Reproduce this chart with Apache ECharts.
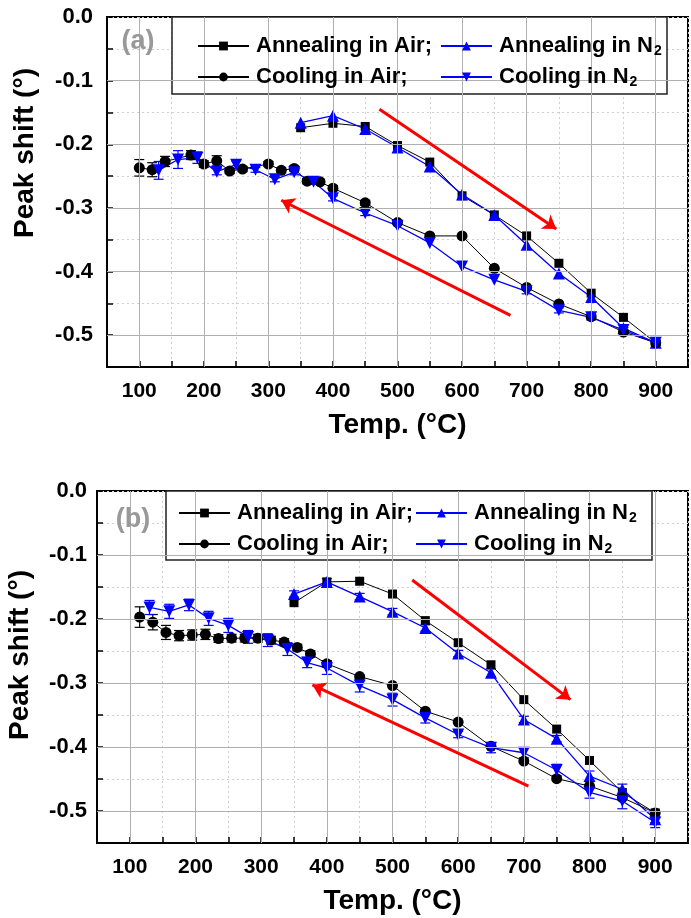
<!DOCTYPE html>
<html><head><meta charset="utf-8">
<script src="https://cdn.jsdelivr.net/npm/echarts@6/dist/echarts.min.js"></script>
<style>html,body{margin:0;padding:0;background:#fff}#c{width:691px;height:918px}</style>
</head><body><div id="c"></div>
<script>
const FF = '"Liberation Sans", Arial, Helvetica, sans-serif';

// ---------- Panel (a) data ----------
const tAnnealA = [350,400,450,500,550,600,650,700,750,800,850,900];
const annealAirA = [-0.174,-0.167,-0.172,-0.202,-0.228,-0.281,-0.311,-0.344,-0.387,-0.434,-0.472,-0.512];
const annealN2A  = [-0.166,-0.155,-0.176,-0.205,-0.235,-0.279,-0.311,-0.358,-0.403,-0.440,-0.489,-0.512];
const tCoolAirA = [100,120,140,180,200,220,240,260,300,320,340,360,380,400,450,500,550,600,650,700,750,800,850,900];
const coolAirA  = [-0.237,-0.240,-0.227,-0.217,-0.231,-0.226,-0.242,-0.239,-0.231,-0.241,-0.238,-0.258,-0.259,-0.269,-0.292,-0.323,-0.344,-0.344,-0.395,-0.425,-0.451,-0.471,-0.495,-0.512];
const coolAirErrA = [0.013,0.011,0.008,0.007,0.005,0.008,0.004,0.004,0.004,0.004,0.004,0.004,0.004,0.004,0.004,0,0,0,0,0,0,0,0,0];
const tCoolN2A = [130,160,190,220,250,280,310,340,370,400,450,500,550,600,650,700,750,800,850,900];
const coolN2A  = [-0.241,-0.224,-0.221,-0.243,-0.232,-0.240,-0.255,-0.244,-0.259,-0.285,-0.308,-0.328,-0.355,-0.392,-0.413,-0.431,-0.461,-0.472,-0.492,-0.512];
const coolN2ErrA = [0.014,0.014,0.009,0.005,0.006,0.004,0.004,0.004,0.004,0.004,0.004,0,0,0,0,0.004,0.004,0.004,0.004,0.004];

// ---------- Panel (b) data ----------
const tAnnealB = [350,400,450,500,550,600,650,700,750,800,850,900];
const annealAirB = [-0.1745,-0.142,-0.141,-0.161,-0.2025,-0.237,-0.2715,-0.326,-0.372,-0.421,-0.471,-0.503];
const annealN2B  = [-0.161,-0.142,-0.165,-0.1885,-0.214,-0.254,-0.284,-0.357,-0.387,-0.4455,-0.466,-0.513];
const annealN2ErrB = [0.005,0.005,0.005,0.005,0.005,0.005,0.006,0.005,0.005,0.008,0.008,0.005];
const tCoolAirB = [115,135,155,175,195,215,235,255,275,295,315,335,355,375,400,450,500,550,600,650,700,750,800,850,900];
const coolAirB  = [-0.197,-0.205,-0.221,-0.226,-0.225,-0.224,-0.2305,-0.230,-0.230,-0.230,-0.233,-0.236,-0.2445,-0.2545,-0.270,-0.290,-0.304,-0.344,-0.361,-0.399,-0.422,-0.4495,-0.461,-0.479,-0.503];
const coolAirErrB = [0.016,0.012,0.011,0.008,0.008,0.008,0.006,0.006,0.006,0.006,0.006,0.005,0.005,0.005,0.005,0,0,0,0,0,0,0,0,0,0];
const tCoolN2B = [130,160,190,220,250,280,310,340,370,400,450,500,550,600,650,700,750,800,850,900];
const coolN2B  = [-0.182,-0.188,-0.178,-0.199,-0.210,-0.228,-0.233,-0.247,-0.268,-0.2766,-0.304,-0.326,-0.3545,-0.3805,-0.401,-0.409,-0.436,-0.471,-0.4845,-0.518];
const coolN2ErrB = [0.011,0.011,0.009,0.011,0.011,0.010,0.010,0.010,0.008,0.010,0.010,0.010,0.008,0.005,0.008,0.008,0.009,0.009,0.012,0.008];

// ---------- annotations (red arrows, data coords) ----------
const arrowsA = [[[472,-0.145],[746,-0.333]], [[675,-0.469],[320,-0.288]]];
const arrowsB = [[[530,-0.139],[771,-0.326]], [[707,-0.461],[378,-0.303]]];

// ---------- ticks ----------
const xMajor = [100,200,300,400,500,600,700,800,900];
const yMajor = [-0.1,-0.2,-0.3,-0.4,-0.5];

const NAMES = ['Annealing in Air;', 'Annealing in N2', 'Cooling in Air;', 'Cooling in N2'];
const BLACK = '#000000', BLUE = '#0000ff';

function lineS(name, xs, ys, symbol, color, size, g, rot) {
  return {
    name, type: 'line', xAxisIndex: g, yAxisIndex: g, z: 3,
    data: xs.map((x, i) => [x, ys[i]]),
    symbol, symbolSize: size, symbolRotate: rot || 0, showSymbol: true,
    lineStyle: { color, width: color === BLUE ? 1.3 : 1 },
    itemStyle: { color, borderWidth: 0 },
    emphasis: { disabled: true }
  };
}
function errS(xs, ys, errs, color, g) {
  const data = [];
  xs.forEach((x, i) => { if (errs[i] > 0) data.push([x, ys[i] - errs[i], ys[i] + errs[i]]); });
  return {
    type: 'custom', xAxisIndex: g, yAxisIndex: g, z: 2, silent: true,
    data, encode: { x: 0, y: [1, 2] },
    renderItem: (p, api) => {
      const lo = api.coord([api.value(0), api.value(1)]);
      const hi = api.coord([api.value(0), api.value(2)]);
      const w = 5, st = { stroke: color, lineWidth: 1.2 };
      return { type: 'group', children: [
        { type: 'line', shape: { x1: lo[0], y1: lo[1], x2: hi[0], y2: hi[1] }, style: st },
        { type: 'line', shape: { x1: lo[0] - w, y1: lo[1], x2: lo[0] + w, y2: lo[1] }, style: st },
        { type: 'line', shape: { x1: hi[0] - w, y1: hi[1], x2: hi[0] + w, y2: hi[1] }, style: st }
      ]};
    }
  };
}
function decorS(g, arrows) {
  return [{
    type: 'line', xAxisIndex: g, yAxisIndex: g, z: 1, data: [], silent: true,
    markLine: { silent: true, symbol: 'none', label: { show: false }, animation: false,
      lineStyle: { color: '#b0b0b0', width: 1, type: 'solid' },
      data: [...xMajor.map(v => ({ xAxis: v })), ...yMajor.map(v => ({ yAxis: v }))] }
  }, {
    type: 'line', xAxisIndex: g, yAxisIndex: g, z: 4, data: [], silent: true,
    markLine: { silent: true, symbol: ['none', 'arrow'], symbolSize: 13, label: { show: false }, animation: false,
      lineStyle: { color: '#ff0000', width: 3, type: 'solid' },
      data: arrows.map(a => [{ coord: a[0] }, { coord: a[1] }]) }
  }];
}

function xAx(g) {
  return {
    gridIndex: g, type: 'value', min: 50, max: 950, interval: 50,
    axisLine: { show: true, onZero: false, lineStyle: { color: '#000', width: 2 } },
    axisTick: { show: true, inside: true, length: 6, lineStyle: { color: '#000', width: 1.5 } },
    axisLabel: { formatter: v => (v % 100 === 0 && v >= 100 && v <= 900) ? String(v) : '',
      fontSize: 21, fontWeight: 'bold', color: '#000', fontFamily: FF, margin: 14 },
    splitLine: { show: true, lineStyle: { color: '#cfcfcf', type: [2, 3], width: 1 } },
    name: 'Temp. (°C)', nameLocation: 'middle', nameGap: 44,
    nameTextStyle: { fontSize: 28, fontWeight: 'bold', color: '#000', fontFamily: FF }
  };
}
function yAx(g, margin) {
  return {
    gridIndex: g, type: 'value', min: -0.55, max: 0, interval: 0.05,
    axisLine: { show: true, onZero: false, lineStyle: { color: '#000', width: 2 } },
    axisTick: { show: true, inside: true, length: 6, lineStyle: { color: '#000', width: 1.5 } },
    axisLabel: { formatter: v => { const r = Math.round(v * 100); return (r % 10 === 0 && r > -55) ? (r / 100).toFixed(1) : ''; },
      fontSize: 22, fontWeight: 'bold', color: '#000', fontFamily: FF, margin },
    splitLine: { show: true, lineStyle: { color: '#cfcfcf', type: [2, 3], width: 1 } }
  };
}

const richTxt = {
  t: { fontSize: 22, fontWeight: 'bold', fontFamily: FF, color: '#000', lineHeight: 24 },
  s: { fontSize: 14, fontWeight: 'bold', fontFamily: FF, color: '#000', verticalAlign: 'bottom', padding: [0, 0, 0, 1] }
};
function legendCol(names, left, top) {
  return {
    data: names, orient: 'vertical', left, top, itemWidth: 51, itemHeight: 11, itemGap: 7,
    selectedMode: false, z: 6,
    formatter: n => n.endsWith('N2') ? '{t|' + n.slice(0, -1) + '}{s|2}' : '{t|' + n + '}',
    textStyle: { fontSize: 22, fontWeight: 'bold', fontFamily: FF, color: '#000', lineHeight: 24, rich: richTxt, padding: [0, 0, 0, 2] }
  };
}

const series = [
  ...decorS(0, arrowsA),
  errS(tCoolAirA, coolAirA, coolAirErrA, BLACK, 0),
  errS(tCoolN2A, coolN2A, coolN2ErrA, BLUE, 0),
  lineS(NAMES[0], tAnnealA, annealAirA, 'rect', BLACK, 9, 0),
  lineS(NAMES[1], tAnnealA, annealN2A, 'triangle', BLUE, 12, 0),
  lineS(NAMES[2], tCoolAirA, coolAirA, 'circle', BLACK, 11, 0),
  lineS(NAMES[3], tCoolN2A, coolN2A, 'triangle', BLUE, 12, 0, 180),
  ...decorS(1, arrowsB),
  errS(tAnnealB, annealN2B, annealN2ErrB, BLUE, 1),
  errS(tCoolAirB, coolAirB, coolAirErrB, BLACK, 1),
  errS(tCoolN2B, coolN2B, coolN2ErrB, BLUE, 1),
  lineS(NAMES[0], tAnnealB, annealAirB, 'rect', BLACK, 9, 1),
  lineS(NAMES[1], tAnnealB, annealN2B, 'triangle', BLUE, 12, 1),
  lineS(NAMES[2], tCoolAirB, coolAirB, 'circle', BLACK, 11, 1),
  lineS(NAMES[3], tCoolN2B, coolN2B, 'triangle', BLUE, 12, 1, 180)
];

const chart = echarts.init(document.getElementById('c'), null, { renderer: 'canvas' });
chart.setOption({
  animation: false,
  backgroundColor: '#ffffff',
  grid: [
    { left: 107, top: 17, width: 588, height: 350, show: true, borderColor: '#000', borderWidth: 2, backgroundColor: 'transparent' },
    { left: 97, top: 491, width: 598, height: 352, show: true, borderColor: '#000', borderWidth: 2, backgroundColor: 'transparent' }
  ],
  xAxis: [xAx(0), xAx(1)],
  yAxis: [yAx(0, 14), yAx(1, 10)],
  legend: [
    legendCol([NAMES[0], NAMES[2]], 192, 29),
    legendCol([NAMES[1], NAMES[3]], 435, 29),
    legendCol([NAMES[0], NAMES[2]], 173, 496),
    legendCol([NAMES[1], NAMES[3]], 410, 496)
  ],
  graphic: { elements: [
    { type: 'rect', z: 5, shape: { x: 172, y: 17, width: 495, height: 77 }, style: { fill: '#fff', stroke: '#222', lineWidth: 1.5 } },
    { type: 'rect', z: 5, shape: { x: 166, y: 491, width: 486, height: 69 }, style: { fill: '#fff', stroke: '#222', lineWidth: 1.5 } },
    { type: 'text', z: 6, x: 138, y: 42, style: { text: '(a)', font: 'bold 27px ' + FF, fill: '#999', align: 'center', verticalAlign: 'middle' } },
    { type: 'text', z: 6, x: 133, y: 520, style: { text: '(b)', font: 'bold 27px ' + FF, fill: '#999', align: 'center', verticalAlign: 'middle' } },
    { type: 'text', z: 6, x: 25, y: 153, rotation: Math.PI / 2, style: { text: 'Peak shift (°)', font: 'bold 28px ' + FF, fill: '#000', align: 'center', verticalAlign: 'middle' } },
    { type: 'text', z: 6, x: 20, y: 655, rotation: Math.PI / 2, style: { text: 'Peak shift (°)', font: 'bold 28px ' + FF, fill: '#000', align: 'center', verticalAlign: 'middle' } }
  ]},
  series
});
</script>
</body></html>
